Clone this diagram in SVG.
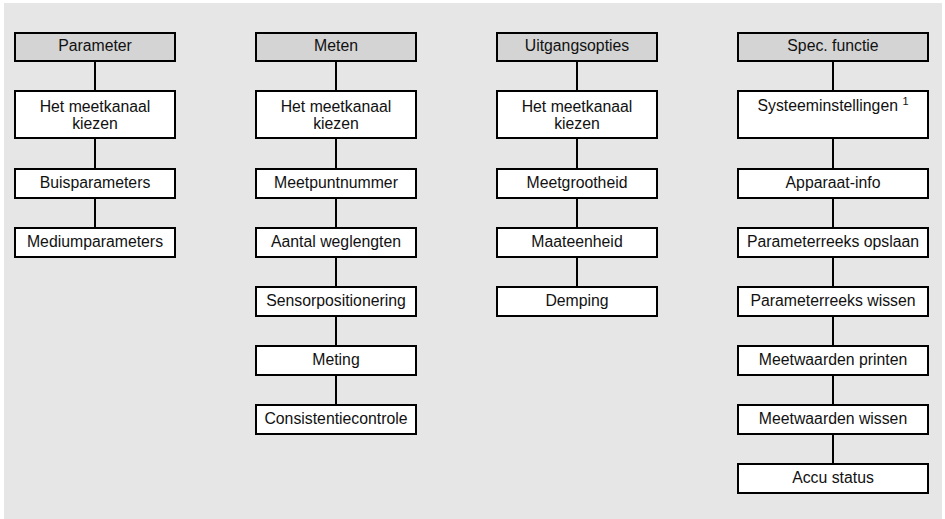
<svg xmlns="http://www.w3.org/2000/svg" width="945" height="519" viewBox="0 0 945 519">
<style>
.bg{fill:#e6e6e6}
.hd{fill:#d4d4d4;stroke:#000;stroke-width:2}
.bx{fill:#fff;stroke:#000;stroke-width:2}
.ln{stroke:#000;stroke-width:2;fill:none}
text{font-family:"Liberation Sans",Arial,sans-serif;font-size:15.8px;fill:#111;text-anchor:middle}
.sup{font-size:11px}
</style>
<rect class="bg" x="4" y="3" width="938" height="516"/>
<g id="connectors">
<path class="ln" d="M95 62V90M95 139V168M95 199V227"/>
<path class="ln" d="M336 62V90M336 139V168M336 199V227M336 257V286M336 316V345M336 375V404"/>
<path class="ln" d="M577 62V90M577 139V168M577 199V227M577 257V286"/>
<path class="ln" d="M833 62V90M833 139V168M833 199V227M833 257V286M833 316V345M833 375V404M833 434V463"/>
</g>
<g id="c1-h"><rect class="hd" x="15" y="33" width="160" height="28"/><text x="95" y="51">Parameter</text></g>
<g id="c1-1"><rect class="bx" x="15" y="91" width="160" height="47"/><text x="95" y="111.5">Het meetkanaal</text><text x="95" y="129">kiezen</text></g>
<g id="c1-2"><rect class="bx" x="15" y="169" width="160" height="29"/><text x="95" y="187.5">Buisparameters</text></g>
<g id="c1-3"><rect class="bx" x="15" y="228" width="160" height="29"/><text x="95" y="246.5">Mediumparameters</text></g>

<g id="c2-h"><rect class="hd" x="256" y="33" width="160" height="28"/><text x="336" y="51">Meten</text></g>
<g id="c2-1"><rect class="bx" x="256" y="91" width="160" height="47"/><text x="336" y="111.5">Het meetkanaal</text><text x="336" y="129">kiezen</text></g>
<g id="c2-2"><rect class="bx" x="256" y="169" width="160" height="29"/><text x="336" y="187.5">Meetpuntnummer</text></g>
<g id="c2-3"><rect class="bx" x="256" y="228" width="160" height="29"/><text x="336" y="246.5">Aantal weglengten</text></g>
<g id="c2-4"><rect class="bx" x="256" y="287" width="160" height="29"/><text x="336" y="305.5">Sensorpositionering</text></g>
<g id="c2-5"><rect class="bx" x="256" y="346" width="160" height="29"/><text x="336" y="364.5">Meting</text></g>
<g id="c2-6"><rect class="bx" x="256" y="405" width="160" height="29"/><text x="336" y="423.5">Consistentiecontrole</text></g>

<g id="c3-h"><rect class="hd" x="497" y="33" width="160" height="28"/><text x="577" y="51">Uitgangsopties</text></g>
<g id="c3-1"><rect class="bx" x="497" y="91" width="160" height="47"/><text x="577" y="111.5">Het meetkanaal</text><text x="577" y="129">kiezen</text></g>
<g id="c3-2"><rect class="bx" x="497" y="169" width="160" height="29"/><text x="577" y="187.5">Meetgrootheid</text></g>
<g id="c3-3"><rect class="bx" x="497" y="228" width="160" height="29"/><text x="577" y="246.5">Maateenheid</text></g>
<g id="c3-4"><rect class="bx" x="497" y="287" width="160" height="29"/><text x="577" y="305.5">Demping</text></g>

<g id="c4-h"><rect class="hd" x="738" y="33" width="190" height="28"/><text x="833" y="51">Spec. functie</text></g>
<g id="c4-1"><rect class="bx" x="738" y="91" width="190" height="47"/><text x="833" y="111">Systeeminstellingen <tspan class="sup" dy="-6">1</tspan></text></g>
<g id="c4-2"><rect class="bx" x="738" y="169" width="190" height="29"/><text x="833" y="187.5">Apparaat-info</text></g>
<g id="c4-3"><rect class="bx" x="738" y="228" width="190" height="29"/><text x="833" y="246.5">Parameterreeks opslaan</text></g>
<g id="c4-4"><rect class="bx" x="738" y="287" width="190" height="29"/><text x="833" y="305.5">Parameterreeks wissen</text></g>
<g id="c4-5"><rect class="bx" x="738" y="346" width="190" height="29"/><text x="833" y="364.5">Meetwaarden printen</text></g>
<g id="c4-6"><rect class="bx" x="738" y="405" width="190" height="29"/><text x="833" y="423.5">Meetwaarden wissen</text></g>
<g id="c4-7"><rect class="bx" x="738" y="464" width="190" height="29"/><text x="833" y="482.5">Accu status</text></g>
</svg>
